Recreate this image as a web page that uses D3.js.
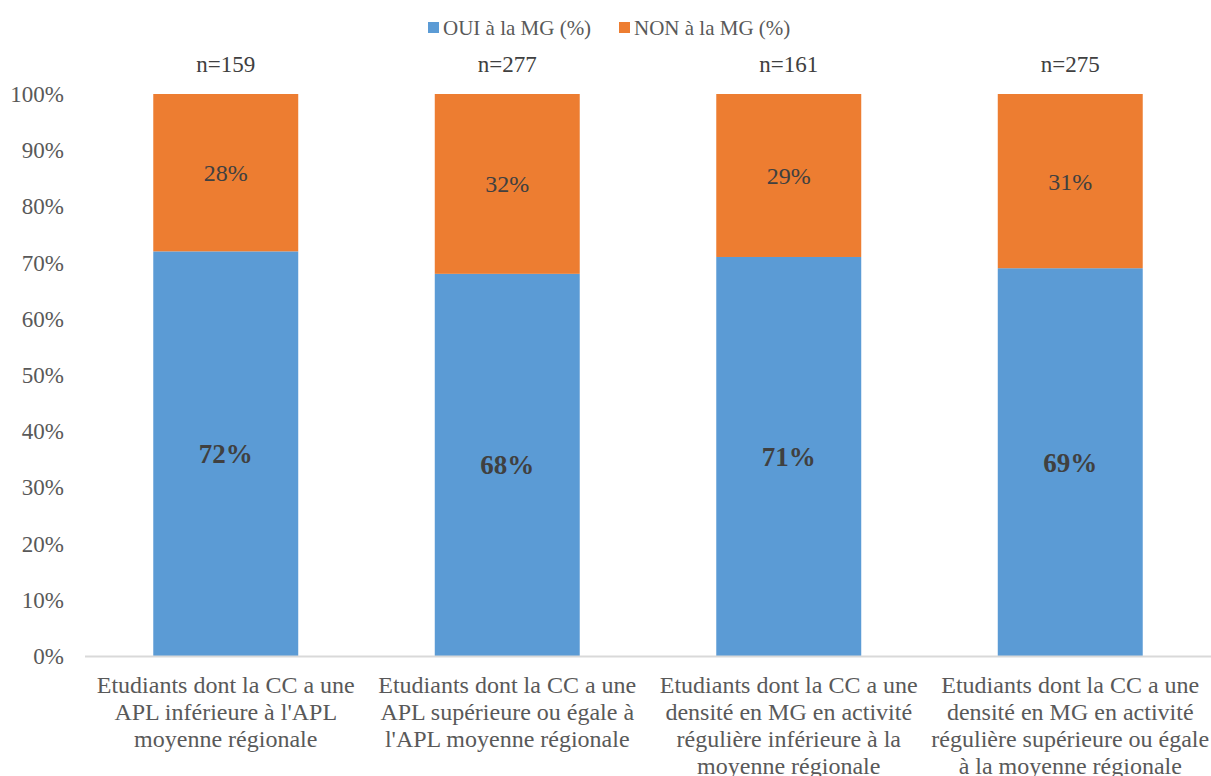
<!DOCTYPE html>
<html>
<head>
<meta charset="utf-8">
<script src="https://cdn.jsdelivr.net/npm/d3@7"></script>
</head>
<body style="margin:0">
<svg id="chart" width="1211" height="776"></svg>
<script>
// Groups of students, sample sizes and shares (%)
const categories = [
  ["Etudiants dont la CC a une", "APL inférieure à l'APL", "moyenne régionale"],
  ["Etudiants dont la CC a une", "APL supérieure ou égale à", "l'APL moyenne régionale"],
  ["Etudiants dont la CC a une", "densité en MG en activité", "régulière inférieure à la", "moyenne régionale"],
  ["Etudiants dont la CC a une", "densité en MG en activité", "régulière supérieure ou égale", "à la moyenne régionale"]
];
const sampleSizes = [159, 277, 161, 275];
const ouiValues = [72, 68, 71, 69];
const nonValues = [28, 32, 29, 31];
const seriesNames = ["OUI à la MG (%)", "NON à la MG (%)"];
const yTicks = [0, 10, 20, 30, 40, 50, 60, 70, 80, 90, 100];

const colors = ["#5B9BD5", "#ED7D31"];
const FONT = '"Liberation Serif"';
const svg = d3.select("#chart");

const margin = { left: 85, right: 0, top: 94 };
const width = 1211;
const plotBottom = 656;

const x = d3.scaleBand()
  .domain(d3.range(categories.length))
  .range([margin.left, width - margin.right])
  .paddingInner(0.485)
  .paddingOuter(0.2425);

const y = d3.scaleLinear().domain([0, 100]).range([plotBottom, margin.top]);

// Y axis tick labels
svg.append("g").selectAll("text")
  .data(yTicks)
  .join("text")
  .style("font-family", FONT)
  .attr("x", 64)
  .attr("y", d => y(d))
  .attr("dy", "0.35em")
  .attr("text-anchor", "end")
  .attr("fill", "#595959")
  .attr("font-size", 23)
  .text(d => d + "%");

// Stacked bars
const stacked = categories.map((c, i) => ({ i, oui: ouiValues[i], non: nonValues[i] }));
const g = svg.append("g");

g.selectAll("rect.oui")
  .data(stacked)
  .join("rect")
  .attr("class", "oui")
  .attr("x", d => x(d.i))
  .attr("width", x.bandwidth())
  .attr("y", d => y(d.oui))
  .attr("height", d => y(0) - y(d.oui))
  .attr("fill", colors[0]);

g.selectAll("rect.non")
  .data(stacked)
  .join("rect")
  .attr("class", "non")
  .attr("x", d => x(d.i))
  .attr("width", x.bandwidth())
  .attr("y", d => y(d.oui + d.non))
  .attr("height", d => y(d.oui) - y(d.oui + d.non))
  .attr("fill", colors[1]);

// Baseline
svg.append("line")
  .attr("x1", margin.left).attr("x2", width)
  .attr("y1", plotBottom + 0.5).attr("y2", plotBottom + 0.5)
  .attr("stroke", "#d9d9d9").attr("stroke-width", 2);

// Value labels
g.selectAll("text.ouiLab")
  .data(stacked)
  .join("text")
  .attr("class", "ouiLab")
  .style("font-family", FONT)
  .attr("x", d => x(d.i) + x.bandwidth() / 2)
  .attr("y", d => (y(0) + y(d.oui)) / 2)
  .attr("dy", "0.35em")
  .attr("text-anchor", "middle")
  .attr("font-size", 27)
  .attr("font-weight", "bold")
  .attr("fill", "#404040")
  .text(d => d.oui + "%");

g.selectAll("text.nonLab")
  .data(stacked)
  .join("text")
  .attr("class", "nonLab")
  .style("font-family", FONT)
  .attr("x", d => x(d.i) + x.bandwidth() / 2)
  .attr("y", d => (y(d.oui) + y(d.oui + d.non)) / 2)
  .attr("dy", "0.35em")
  .attr("text-anchor", "middle")
  .attr("font-size", 24)
  .attr("fill", "#404040")
  .text(d => d.non + "%");

// Sample sizes above bars
svg.append("g").selectAll("text")
  .data(sampleSizes)
  .join("text")
  .style("font-family", FONT)
  .attr("x", (d, i) => x(i) + x.bandwidth() / 2)
  .attr("y", 72)
  .attr("text-anchor", "middle")
  .attr("font-size", 23)
  .attr("fill", "#404040")
  .text(d => "n=" + d);

// Category labels
const catG = svg.append("g");
categories.forEach((lines, i) => {
  const t = catG.append("text")
    .style("font-family", FONT)
    .attr("text-anchor", "middle")
    .attr("font-size", 24)
    .attr("fill", "#595959");
  lines.forEach((line, k) => {
    t.append("tspan")
      .style("font-family", FONT)
      .attr("x", x(i) + x.bandwidth() / 2)
      .attr("y", 693 + k * 27)
      .text(line);
  });
});

// Legend
const legendX = [428, 619];
const legend = svg.append("g");
seriesNames.forEach((name, i) => {
  legend.append("rect")
    .attr("x", legendX[i]).attr("y", 22)
    .attr("width", 11).attr("height", 11)
    .attr("fill", colors[i]);
  legend.append("text")
    .style("font-family", FONT)
    .attr("x", legendX[i] + 15).attr("y", 35)
    .attr("font-size", 21)
    .attr("fill", "#595959")
    .text(name);
});
</script>
</body>
</html>
